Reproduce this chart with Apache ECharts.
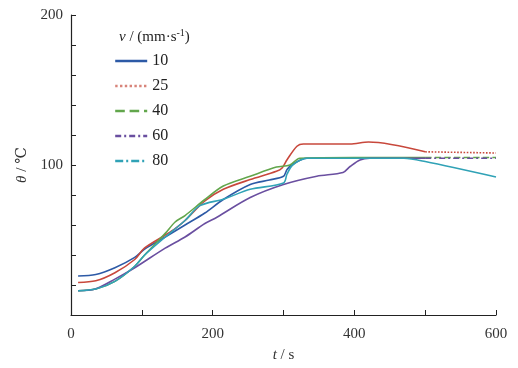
<!DOCTYPE html>
<html><head><meta charset="utf-8">
<script src="https://cdn.jsdelivr.net/npm/echarts@6/dist/echarts.min.js"></script>
<style>html,body{margin:0;padding:0;background:#fff}#c{width:518px;height:368px}</style>
</head><body><div id="c"></div>
<script>
// legend names (v / mm·s^-1)
const speeds = ['10','25','40','60','80'];
const colors = ['#2d5aa6','#c8483c','#62a64c','#6a4fa0','#30a2b6'];
const legendColors = ['#2d5aa6','#d8847a','#62a64c','#6a4fa0','#30a2b6'];
const dashTypes = ['solid','dotted','dashed',[6,3,2,3],[8,3,2,3]];
// x-axis tick labels shown
const xTickLabels = [0,200,400,600];
const yTickLabels = [100,200];

// [t (s), θ (°C)]
const temp10 = [[10,26],[35,27],[62,31.5],[90,38.4],[104,44],[133,52],[161,60],[189,68],[215,77],[253,87],[280,90],[300,92.5],[305,97],[313,100.5],[333,104.5],[400,104.5],[500,104.5]];
const temp25 = [[10,21.7],[35,22.8],[62,28.2],[90,37],[104,44.7],[133,53.3],[147,57.6],[161,63],[189,76],[215,83.8],[253,90.3],[290,95.8],[298,98],[305,103.5],[319,112.5],[328,114],[394,114],[420,115.3],[500,108.8]];
const temp25tail = [[500,108.8],[600,108]];
const temp40 = [[10,16.2],[35,17.3],[62,22.4],[90,32.5],[104,40],[133,54.4],[147,62],[161,66.3],[189,77],[215,86],[253,92.5],[290,98.6],[309,100],[323,104.5],[400,105],[500,105]];
const temp40tail = [[500,105],[600,105]];
const temp60 = [[10,16.2],[34,17.3],[62,23.9],[90,31.5],[133,44.6],[161,52],[189,61],[206,65.2],[253,78.3],[300,87],[347,92.5],[384,95],[394,99],[408,103.4],[422,104.5],[500,104.5]];
const temp60tail = [[500,104.5],[600,104.5]];
const temp80 = [[10,16.2],[35,17.3],[62,22.4],[90,32.5],[104,40],[133,52],[161,63],[182,72.9],[215,77.2],[253,83.8],[300,88],[305,94],[313,100],[333,104.5],[470,104.5],[500,102.3],[600,92]];

const mains = [temp10,temp25,temp40,temp60,temp80];
const tails = [null,temp25tail,temp40tail,temp60tail,null];

const series = [];
speeds.forEach((s,i)=>{
  series.push({name:s,type:'line',data:mains[i],showSymbol:false,symbol:'none',smooth:0.3,
    lineStyle:{color:colors[i],width:1.6,type:'solid'},itemStyle:{color:colors[i]},z:2+i});
  if(tails[i]) series.push({name:s,type:'line',data:tails[i],showSymbol:false,symbol:'none',
    lineStyle:{color:colors[i],width:1.6,type:dashTypes[i]},itemStyle:{color:colors[i]},z:2+i});
});

const serif = '"Liberation Serif","DejaVu Serif",serif';
const chart = echarts.init(document.getElementById('c'),null,{renderer:'canvas'});
chart.setOption({
  animation:false,
  backgroundColor:'#fff',
  grid:{left:71,right:22,top:15,bottom:47},
  xAxis:{type:'value',min:0,max:600,interval:100,
    name:'{i|t} / s',nameLocation:'middle',nameGap:33,
    nameTextStyle:{fontFamily:serif,fontSize:15,color:'#333',rich:{i:{fontStyle:'italic',fontFamily:serif,fontSize:15,color:'#333'}}},
    axisLine:{lineStyle:{color:'#222',width:1.2}},
    axisTick:{inside:true,length:5,lineStyle:{color:'#222'}},
    axisLabel:{fontFamily:serif,fontSize:15,color:'#333',margin:12,
      formatter:v=>xTickLabels.includes(v)?String(v):''},
    splitLine:{show:false}},
  yAxis:{type:'value',min:0,max:200,interval:20,
    name:'{i|θ} / ℃',nameLocation:'middle',nameGap:38,nameRotate:90,
    nameTextStyle:{fontFamily:serif,fontSize:15,color:'#333',rich:{i:{fontStyle:'italic',fontFamily:serif,fontSize:15,color:'#333'}}},
    axisLine:{show:true,lineStyle:{color:'#222',width:1.2}},
    axisTick:{show:true,inside:true,length:5,lineStyle:{color:'#222'}},
    axisLabel:{fontFamily:serif,fontSize:15,color:'#333',margin:8,
      formatter:v=>yTickLabels.includes(v)?String(v):''},
    splitLine:{show:false}},
  legend:{show:true,orient:'vertical',left:109,top:48,itemWidth:32,itemHeight:10,itemGap:9,
    textStyle:{fontFamily:serif,fontSize:16,color:'#222'},
    data:speeds.map((s,i)=>({name:s,itemStyle:{opacity:0},lineStyle:{color:legendColors[i],width:2.4,type:dashTypes[i],opacity:1}}))},
  graphic:[{type:'text',left:119,top:28,style:{
    text:'{i|v} / (mm·s{s|-1})',font:'15px '+serif,fill:'#222',
    rich:{i:{fontStyle:'italic',fontFamily:serif,fontSize:15,fill:'#222'},s:{fontSize:10,fontFamily:serif,verticalAlign:'top',padding:[0,0,8,0],fill:'#222'}}}}],
  series
});
</script></body></html>
